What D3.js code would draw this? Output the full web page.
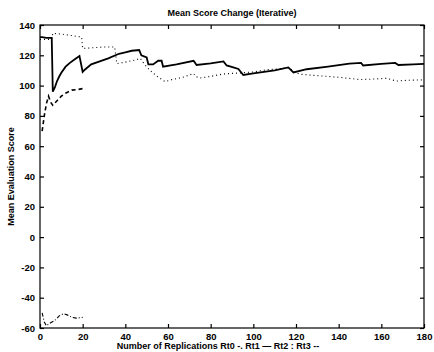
<!DOCTYPE html>
<html><head><meta charset="utf-8">
<script src="https://cdn.jsdelivr.net/npm/d3@7"></script>
<style>
body{margin:0;background:#fff;}
svg{display:block;}
text{font-family:"Liberation Sans",Arial,sans-serif;fill:#000;}
</style></head>
<body>
<svg id="c" width="434" height="352"></svg>
<script>
const title = "Mean Score Change (Iterative)";
const xLabel = "Number of Replications Rt0 -. Rt1 \u2014 Rt2 : Rt3 --";
const yLabel = "Mean Evaluation Score";
const xTicks = [0,20,40,60,80,100,120,140,160,180];
const yTicks = [140,120,100,80,60,40,20,0,-20,-40,-60];

// Rt0 (dash-dot)
const rt0X = [1,2,3,4,5,7,9,11,13,15,17,20];
const rt0Y = [-50,-56,-58.5,-57.5,-56.5,-55,-52,-50.5,-51.5,-53,-53.5,-53];
// Rt1 (solid)
const rt1X = [0,1,3,5.5,6,7,8,9,10,12,14,16,18.5,20,21,24,28,32,37,40,43,46.5,47.5,50,50.8,53,55.4,57,57.7,64,72,73.4,80,86,87.5,90.6,93,95.3,100,110,116.4,118.8,125,135,145,150.5,151.5,160,166.5,168,175,180];
const rt1Y = [132,132,131.5,131.5,96,99,103,106,108.5,112.5,115,117,119.5,109,110.5,114,116,118,121,122,123,123.5,120,118.6,114,114,116.4,116.4,112.5,114,116.4,113.6,114.7,116,113.3,112,111,107,108,110,112,108.7,110.8,112.5,114.5,115,113.3,114.3,115,113.6,114,114.3];
// Rt2 (dotted)
const rt2X = [0,5.5,6,10,15,19.5,20,25,30,35,36,40,45,47,49,51.6,55,58.6,62,67,72,73,75,79.7,86,95,100,106.6,113,117,119,122,128,140,150,156,162.5,167,172,180];
const rt2Y = [130.5,130.5,134.5,134,133,132,124.5,125,125.5,125.5,114.5,115.5,117,118,114,110,106,102.6,104,105.5,108,106,105,106,107.7,108.5,109,110.5,111.2,111.8,109,107.5,106.8,105.5,104,104.3,104.8,103,103.5,103.8];
// Rt3 (dashed)
const rt3X = [1,2,3,4,5,6,8,10,12,15,18,20];
const rt3Y = [70,80,88,93,89,87,90,93,95,97,97.5,98];

const svg = d3.select("#c");
const L = 40, R = 424, T = 25, B = 328;
const x = d3.scaleLinear().domain([0,180]).range([L,R]);
const y = d3.scaleLinear().domain([-60,140]).range([B,T]);

// frame
svg.append("rect").attr("x",L).attr("y",T).attr("width",R-L).attr("height",B-T)
  .attr("fill","none").attr("stroke","#000").attr("stroke-width",1.2);

const fmt = d => d3.format("d")(d).replace("\u2212","-");
const gB = svg.append("g").attr("transform",`translate(0,${B})`)
  .call(d3.axisBottom(x).tickValues(xTicks).tickSize(-4).tickSizeOuter(0).tickPadding(5).tickFormat(d=>String(d)));
const gT = svg.append("g").attr("transform",`translate(0,${T})`)
  .call(d3.axisTop(x).tickValues(xTicks).tickSize(-4).tickSizeOuter(0).tickFormat(""));
const gL = svg.append("g").attr("transform",`translate(${L},0)`)
  .call(d3.axisLeft(y).tickValues(yTicks).tickSize(-4).tickSizeOuter(0).tickPadding(5).tickFormat(d=>String(d)));
const gR = svg.append("g").attr("transform",`translate(${R},0)`)
  .call(d3.axisRight(y).tickValues(yTicks).tickSize(-4).tickSizeOuter(0).tickFormat(""));
[gB,gT,gL,gR].forEach(g=>{
  g.select(".domain").remove();
  g.selectAll("line").attr("stroke","#000").attr("stroke-width",1.2);
  g.selectAll("text").attr("font-size",9.5).attr("font-weight","bold")
    .attr("font-family","'Liberation Sans',Arial,sans-serif").attr("fill","#000");
});

const line = d3.line().x(d=>x(d[0])).y(d=>y(d[1]));
const series = [
  {xs:rt0X, ys:rt0Y, dash:"4,2,1,2", w:1.1},
  {xs:rt1X, ys:rt1Y, dash:null, w:1.8},
  {xs:rt2X, ys:rt2Y, dash:"1,3", w:1.1},
  {xs:rt3X, ys:rt3Y, dash:"4,3", w:1.6}
];
series.forEach(s=>{
  const pts = s.xs.map((v,i)=>[v,s.ys[i]]);
  const p = svg.append("path").datum(pts).attr("d",line)
    .attr("fill","none").attr("stroke","#000").attr("stroke-width",s.w);
  if (s.dash) p.attr("stroke-dasharray",s.dash);
});

svg.append("text").attr("x",(L+R)/2).attr("y",16).attr("text-anchor","middle")
  .attr("font-size",9).attr("font-weight","bold").text(title);
svg.append("text").attr("x",218).attr("y",349).attr("text-anchor","middle")
  .attr("font-size",9).attr("font-weight","bold").text(xLabel);
svg.append("text").attr("transform",`translate(14,${(T+B)/2}) rotate(-90)`)
  .attr("text-anchor","middle").attr("font-size",9).attr("font-weight","bold").text(yLabel);
</script>
</body></html>
